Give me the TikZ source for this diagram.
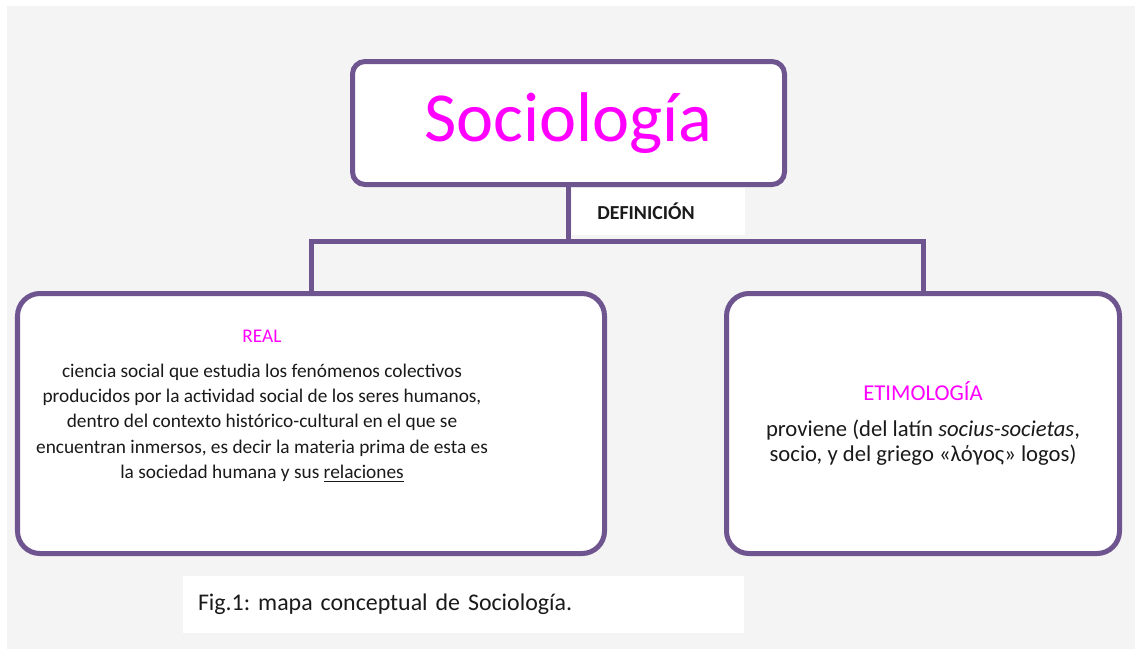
\documentclass[tikz,border=0pt]{standalone}
\usepackage{fontspec}
\setmainfont{Carlito}
\usepackage{xcolor}
\usepackage{tikz}
\usetikzlibrary{positioning, calc}
\definecolor{mapviolet}{RGB}{111,85,144}
\definecolor{mapmagenta}{RGB}{255,0,255}
\definecolor{mapgray}{RGB}{244,244,244}
\definecolor{maptext}{RGB}{26,26,26}
\tikzset{
    conceptbox/.style={rectangle, draw=mapviolet, fill=white, line width=2.85pt, rounded corners=#1, align=center, font=\fontsize{11}{14.4}\selectfont, text=maptext},
    conceptbox/.default=0.45cm,
    boxtext/.style={align=center, font=\fontsize{11}{14.4}\selectfont, text=maptext, inner sep=0pt},
    defbox/.style={rectangle, fill=white, text width=2.96cm, inner xsep=0.25cm, minimum height=0.94cm, align=left, font=\bfseries\fontsize{11.3}{13}\selectfont, text=maptext},
    capbox/.style={rectangle, fill=white, text width=10.62cm, inner xsep=0.3cm, minimum height=1.14cm, align=left, font=\frenchspacing\fontsize{13.6}{17}\selectfont, text=maptext},
    maplink/.style={draw=mapviolet, line width=2.85pt}
}

\begin{document}
\begin{tikzpicture}

\useasboundingbox (0,0) rectangle (22.7,-12.98);
\fill[white] (0,0) rectangle (22.7,-12.98);
\fill[mapgray] (0.14,-0.12) rectangle (22.7,-12.98);

\node[conceptbox=0.25cm, minimum width=8.64cm, minimum height=2.46cm, font=\fontsize{40}{48}\selectfont, text=mapmagenta] (socio) at (11.37,-2.46) {Sociología};
\node[conceptbox, minimum width=11.74cm, minimum height=5.2cm] (real) at (6.22,-8.47) {};
\node[conceptbox, minimum width=7.86cm, minimum height=5.2cm, font=\fontsize{12.9}{14.4}\selectfont] (etim) at (18.46,-8.47) {\textcolor{mapmagenta}{ETIMOLOGÍA}\\[6pt] proviene (del latín \textit{socius-societas},\\ socio, y del griego «λόγος» logos)};
\node[boxtext] (realtxt) at (5.24,-8.12) {\textcolor{mapmagenta}{REAL}\\[5.5pt]
    ciencia social que estudia los fenómenos colectivos\\
    producidos por la actividad social de los seres humanos,\\
    dentro del contexto histórico-cultural en el que se\\
    encuentran inmersos, es decir la materia prima de esta es\\
    la sociedad humana y sus \underline{relaciones}};

\node[defbox, anchor=west] (def) at (11.44,-4.23) {\hspace*{0.25cm}DEFINICIÓN};
\node[capbox] (cap) at (9.27,-12.09) {Fig.1: mapa conceptual de Sociología.};

\coordinate (split) at ($(socio.south)+(0,-1.08)$);
\draw[maplink] (socio.south) -- (split);
\draw[maplink] (real.north) |- (split) -| (etim.north);

\end{tikzpicture}
\end{document}
